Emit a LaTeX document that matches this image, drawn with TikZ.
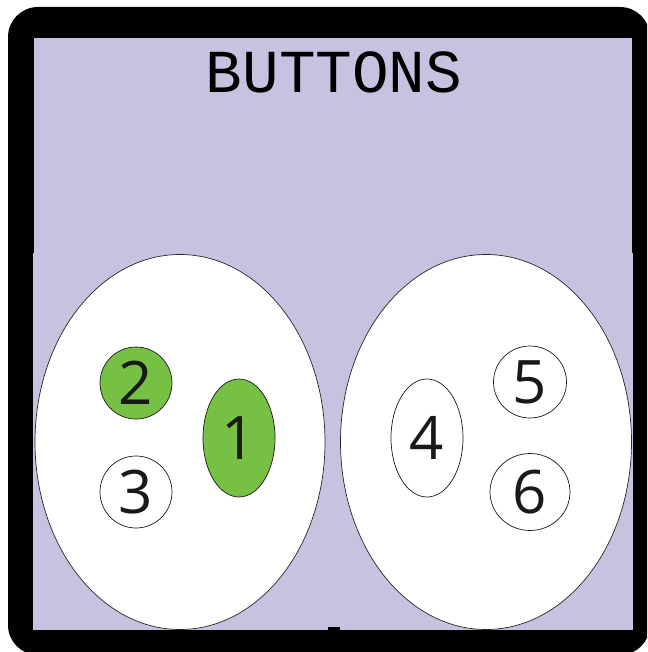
\documentclass[tikz,border=0pt]{standalone}
\usepackage{fontspec}
\setmainfont{Open Sans}
\newfontfamily\titlefont{Liberation Mono}
\usetikzlibrary{shapes.geometric}
\definecolor{lav}{RGB}{200,193,224}
\definecolor{btngreen}{RGB}{118,192,67}
\tikzset{
  group/.style={ellipse, draw=black!85, line width=0.7pt, fill=white, inner sep=0pt},
  btn/.style={ellipse, draw=black!90, line width=0.7pt, fill=white, inner sep=0pt,
     font=\fontsize{60}{64}\selectfont, text=black!90},
  on/.style={fill=btngreen},
}
\begin{document}
\begin{tikzpicture}[x=1pt,y=-1pt]
\useasboundingbox (0,0) rectangle (647,652);
\clip (0,0) rectangle (647,652);
% frame
\fill[black, rounded corners=30pt] (8,7) rectangle (650,655);
\fill[lav] (34,38) rectangle (632,254);
\fill[lav] (33,253) rectangle (633,630);
\fill[black] (328,627) rectangle (340,631);
% title
\node[font=\titlefont\fontsize{61}{64}\selectfont, text=black] (title) at (334,72) {BUTTONS};
% groups
\node[group, minimum width=290pt, minimum height=375pt] (left) at (180,442) {};
\node[group, minimum width=291pt, minimum height=375pt] (right) at (486,442) {};
% buttons
\node[btn, on, minimum width=72pt, minimum height=72pt] (b2) at (136,383) {2};
\node[btn, on, minimum width=72pt, minimum height=118pt] (b1) at (239,438) {1};
\node[btn, minimum width=72pt, minimum height=72pt] (b3) at (136,492) {3};
\node[btn, minimum width=72pt, minimum height=118pt] (b4) at (427,438) {4};
\node[btn, minimum width=73pt, minimum height=72pt] (b5) at (530,382) {5};
\node[btn, minimum width=80pt, minimum height=77pt] (b6) at (530,492) {6};
\end{tikzpicture}
\end{document}
